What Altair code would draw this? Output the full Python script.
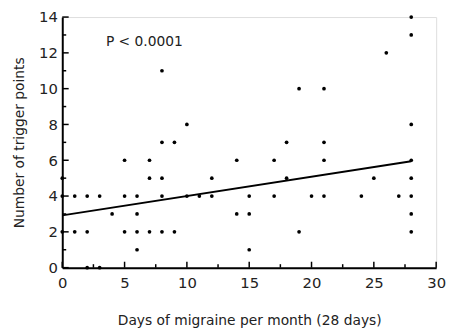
import altair as alt
import pandas as pd

# Scatter data: days of migraine per month vs number of trigger points
days = [0, 0, 0,
        1, 1,
        2, 2, 2,
        3, 3,
        4,
        5, 5, 5,
        6, 6, 6, 6,
        7, 7, 7,
        8, 8, 8, 8, 8,
        9, 9,
        10, 10,
        11,
        12, 12,
        14, 14,
        15, 15, 15,
        17, 17,
        18, 18,
        19, 19,
        20,
        21, 21, 21, 21,
        24, 25, 26, 27,
        28, 28, 28, 28, 28, 28, 28, 28]
points = [5, 4, 2,
          4, 2,
          4, 2, 0,
          4, 0,
          3,
          6, 4, 2,
          4, 3, 2, 1,
          6, 5, 2,
          11, 7, 5, 4, 2,
          7, 2,
          8, 4,
          4,
          5, 4,
          6, 3,
          4, 3, 1,
          6, 4,
          7, 5,
          10, 2,
          4,
          10, 7, 6, 4,
          4, 5, 12, 4,
          14, 13, 8, 6, 5, 4, 3, 2]

# Fitted line endpoints
fit_x = [0, 28]
fit_y = [2.92, 5.95]

# Axis ticks
x_major = [0, 5, 10, 15, 20, 25, 30]
x_minor = [2.5, 7.5, 12.5, 17.5, 22.5, 27.5]
y_major = [0, 2, 4, 6, 8, 10, 12, 14]
y_minor = [1, 3, 5, 7, 9, 11, 13]

annotation = "P < 0.0001"

W, H = 379, 254
FONT = "DejaVu Sans"

df = pd.DataFrame({"days": days, "tp": points})
fit_df = pd.DataFrame({"days": fit_x, "tp": fit_y})

xs = alt.Scale(domain=[0, 30], nice=False, zero=False)
ys = alt.Scale(domain=[0, 14], nice=False, zero=False)

x_axis = alt.Axis(values=x_major, format="d", ticks=False, grid=False,
                  labelOverlap=False, labelFlush=False, labelPadding=8,
                  title="Days of migraine per month (28 days)", titlePadding=24)
y_axis = alt.Axis(values=y_major, format="d", ticks=False, grid=False,
                  labelOverlap=False, labelFlush=False, labelPadding=5,
                  title="Number of trigger points", titlePadding=12)

X = alt.X("days:Q", scale=xs, axis=x_axis)
Y = alt.Y("tp:Q", scale=ys, axis=y_axis)

scatter = alt.Chart(df).mark_circle(color="black", size=14, opacity=1).encode(x=X, y=Y)

fit = alt.Chart(fit_df).mark_line(color="black", strokeWidth=2).encode(x=X, y=Y)

xmaj = alt.Chart(pd.DataFrame({"days": x_major})).mark_rule(color="black", strokeWidth=1.5).encode(
    x=X, y=alt.value(H), y2=alt.value(H - 6))
xmin = alt.Chart(pd.DataFrame({"days": x_minor})).mark_rule(color="black", strokeWidth=1.5).encode(
    x=X, y=alt.value(H), y2=alt.value(H - 3.5))
ymaj = alt.Chart(pd.DataFrame({"tp": y_major})).mark_rule(color="black", strokeWidth=1.5).encode(
    y=Y, x=alt.value(0), x2=alt.value(6.5))
ymin = alt.Chart(pd.DataFrame({"tp": y_minor})).mark_rule(color="black", strokeWidth=1.5).encode(
    y=Y, x=alt.value(0), x2=alt.value(4))

label = alt.Chart(pd.DataFrame({"days": [3.5], "tp": [12.6], "t": [annotation]})).mark_text(
    align="left", baseline="middle", font=FONT, fontSize=14, color="#222").encode(
    x=X, y=Y, text="t:N")

chart = alt.layer(scatter, fit, xmaj, xmin, ymaj, ymin, label).properties(
    width=W, height=H,
    autosize=alt.AutoSizeParams(type="none"),
    padding={"left": 55, "top": 7, "right": 12, "bottom": 60},
).configure_view(stroke=None).configure(background="white").configure_axis(
    domainColor="black", domainWidth=2, labelColor="#222",
    labelFont=FONT, labelFontSize=15, labelOverlap=False,
    titleFont=FONT, titleFontSize=14, titleFontWeight="normal", titleColor="#222",
)

chart.save("out.html", embed_options={"renderer": "svg", "actions": False})
